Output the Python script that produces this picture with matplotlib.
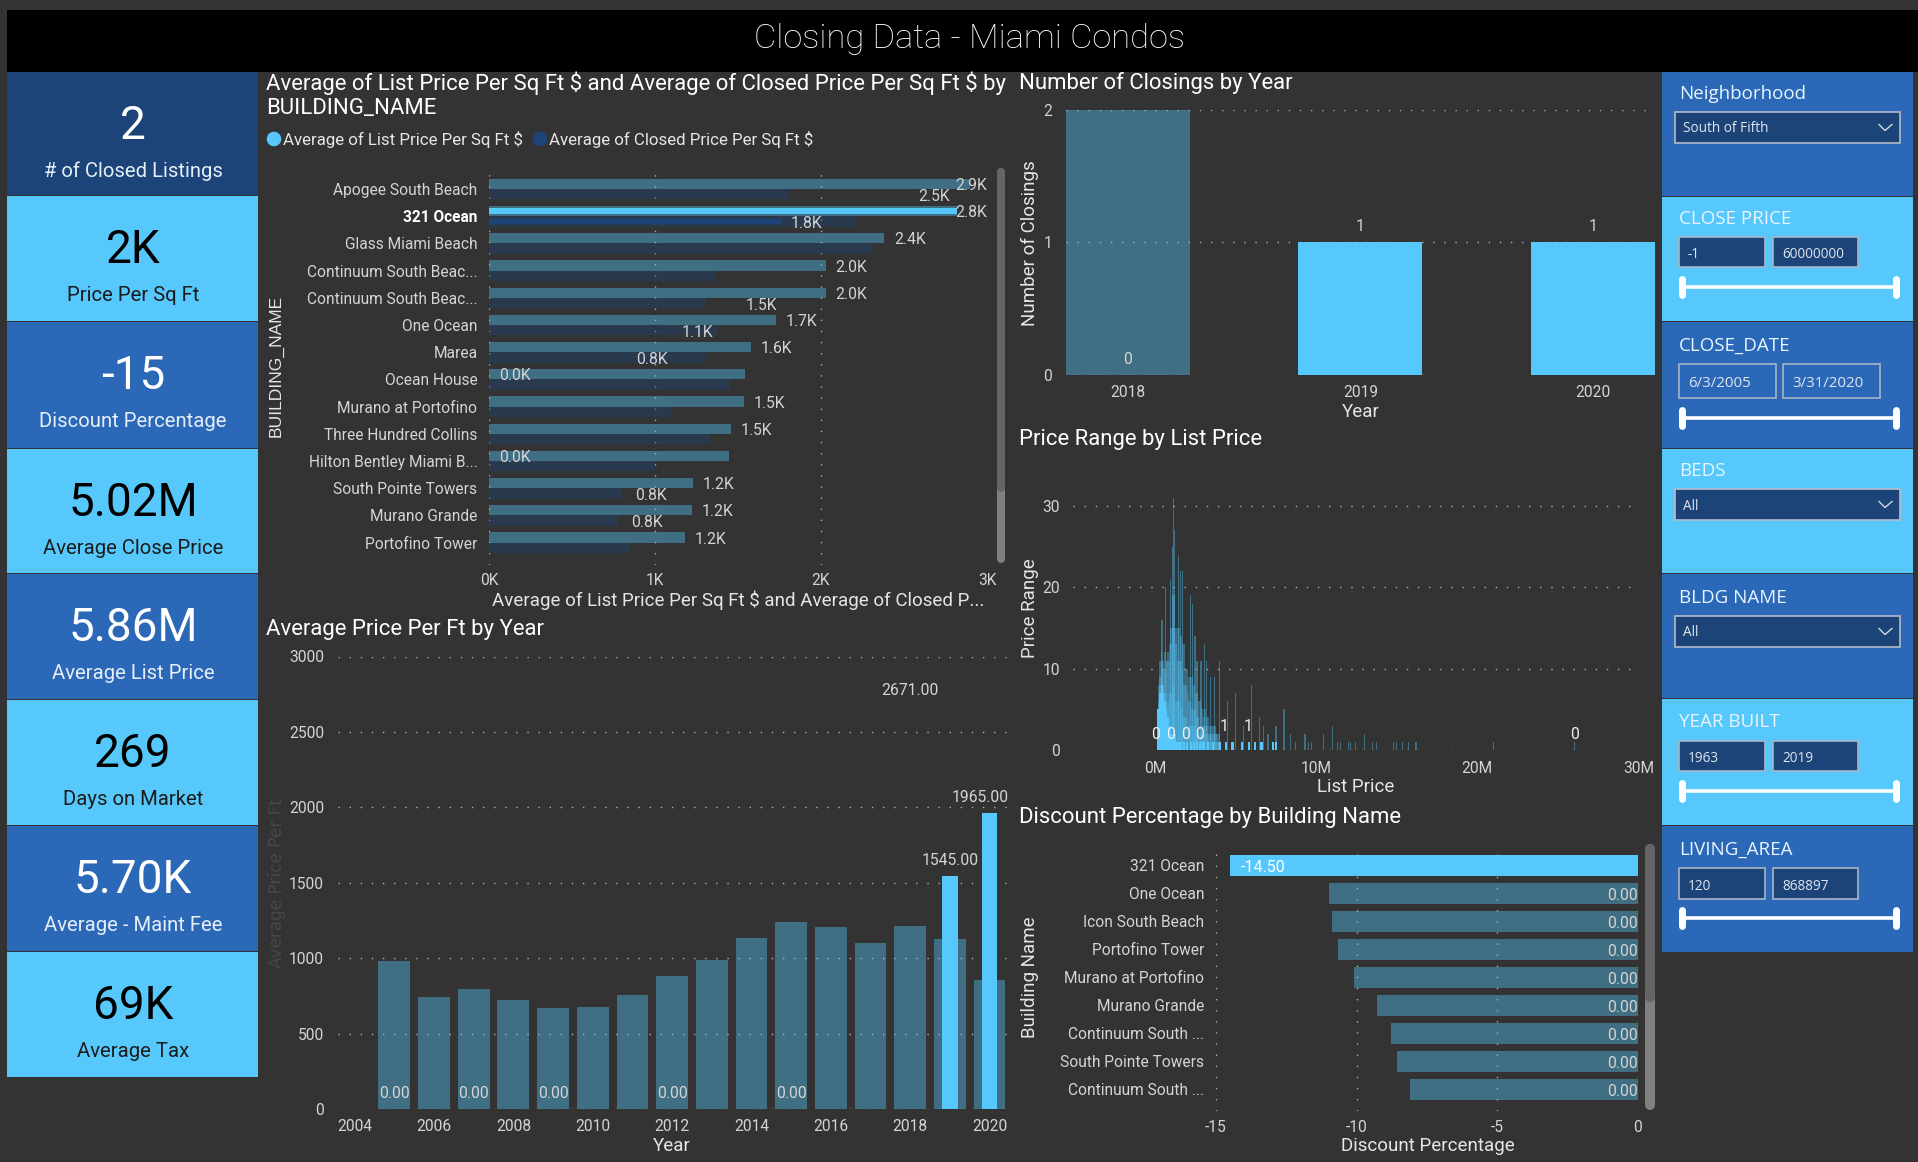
# power bi style dashboard - closing data for miami condos

import matplotlib
matplotlib.use('Agg')
import matplotlib.pyplot as plt
from matplotlib.patches import Rectangle

W, H = 1918, 1162

plt.rcParams['font.family'] = ['Roboto', 'DejaVu Sans']

BG = '#333333'
LIGHT = '#56c8fb'
MID = '#2b68b7'
DARK = '#1c4478'
TICK = '#d4d4d4'
GRID = '#b0b0b0'
DOTS = (0, (1, 7))

# kpi cards
card_values = ['2', '2K', '-15', '5.02M', '5.86M', '269', '5.70K', '69K']
card_labels = ['# of Closed Listings', 'Price Per Sq Ft', 'Discount Percentage', 'Average Close Price',
               'Average List Price', 'Days on Market', 'Average - Maint Fee', 'Average Tax']

# list vs closed price per sq ft
buildings = ['Apogee South Beach', '321 Ocean', 'Glass Miami Beach', 'Continuum South Beac...',
             'Continuum South Beac...', 'One Ocean', 'Marea', 'Ocean House', 'Murano at Portofino',
             'Three Hundred Collins', 'Hilton Bentley Miami B...', 'South Pointe Towers',
             'Murano Grande', 'Portofino Tower']
list_price = [2.90, 2.82, 2.38, 2.03, 2.03, 1.73, 1.58, 1.54, 1.535, 1.46, 1.445, 1.23, 1.22, 1.18]
closed_price = [1.81, 2.21, 2.30, 1.36, 1.31, 1.38, 1.30, 1.45, 1.10, 1.33, 1.00, 0.80, 0.78, 0.85]
list_labels = [2.9, 2.8, 2.4, 2.0, 2.0, 1.7, 1.6, 0.0, 1.5, 1.5, 0.0, 1.2, 1.2, 1.2]
closed_label_rows = [0, 1, 4, 5, 6, 11, 12]
closed_labels = [2.5, 1.8, 1.5, 1.1, 0.8, 0.8, 0.8]
closed_label_pos = [2.53, 1.76, 1.49, 1.10, 0.83, 0.82, 0.80]
highlight_row = 1
highlight_list = 2.82
highlight_closed = 1.76

# average price per ft by year
years = list(range(2005, 2021))
avg_price = [980, 742, 795, 721, 667, 676, 753, 882, 991, 1136, 1241, 1206, 1101, 1213, 1127, 856]
highlight_years = [2019, 2020]
highlight_price = [1545, 1965]
label_years = [2005, 2007, 2009, 2012, 2015, 2018, 2019, 2020]
label_values = [0, 0, 0, 0, 0, 2671, 1545, 1965]

# closings by year
closing_years = ['2018', '2019', '2020']
closings_all = [2, 1, 1]
closings_sel = [0, 1, 1]

# price range by list price, tall spikes
spike_price = [0.43, 0.64, 0.93, 1.10, 1.14, 1.20, 1.47, 1.55, 1.72, 2.17, 2.30, 2.48, 2.60, 2.84, 3.08,
               3.20, 3.42, 3.70, 3.98, 4.50, 5.00, 5.50, 6.00, 6.50, 6.73, 7.00, 7.50, 8.00, 8.40, 8.70,
               9.30, 9.50, 9.70, 10.45, 11.00, 11.30, 11.50, 12.00, 12.15, 12.45, 13.00, 13.50, 13.75,
               14.80, 15.00, 15.35, 15.75, 16.20, 21.00, 26.05]
spike_range = [16, 20, 21, 25, 31, 27, 24, 22, 22, 19, 18, 14, 11, 11, 13, 11, 9, 9, 11, 6, 7, 3, 8, 4, 3, 2,
               3, 5, 2, 1, 2, 1, 1, 2, 3, 1, 1, 1, 1, 1, 2, 1, 1, 1, 1, 1, 1, 1, 1, 1]
# the dense part, three overlapping layers
dense_price = [0.2, 0.3, 0.4, 0.5, 0.6, 0.7, 0.8, 0.9, 1.0, 1.1, 1.2, 1.3, 1.4, 1.5, 1.6, 1.7, 1.8, 1.9, 2.0,
               2.1, 2.2, 2.3, 2.4, 2.5, 2.6, 2.7, 2.8, 2.9, 3.0, 3.1, 3.2, 3.3, 3.4, 3.5, 3.6, 3.7, 3.8, 3.9, 4.0]
dense_a = [8, 11, 12, 11, 12, 11, 12, 13, 15, 19, 19, 15, 15, 15, 14, 13, 13, 10, 10, 9, 9, 9, 8, 7, 7, 6, 6,
           5, 4, 5, 4, 4, 3, 3, 3, 3, 2, 2, 2]
dense_b = [6, 9, 11, 10, 10, 11, 11, 11, 13, 15, 15, 13, 11, 11, 11, 10, 8, 8, 7, 6, 6, 5, 5, 5, 4, 4, 3, 3,
           3, 3, 3, 2, 2, 2, 2, 2, 2, 1, 1]
dense_c = [5, 8, 9, 8, 7, 7, 6, 7, 7, 8, 7, 6, 6, 6, 5, 5, 4, 4, 3, 3, 3, 3, 3, 3, 2, 2, 2, 2, 2, 2, 2, 1, 1, 1,
           1, 1, 1, 1, 1]
# selected listings (bright bars)
bright_price = [0.2, 0.3, 0.4, 0.5, 0.6, 0.7, 0.8, 0.9, 1.0, 1.1, 1.2, 1.3, 1.4, 1.5, 1.6, 1.8, 2.0, 2.2, 2.4, 2.6,
                2.8, 3.0, 3.3, 3.6, 4.0, 4.4, 4.8, 5.4, 5.8, 6.2, 6.6, 7.3, 7.5]
bright_range = [5, 7, 8, 7, 6, 5, 4, 3, 2, 2, 2, 1, 1, 1, 1, 1, 1, 1, 1, 1, 1, 1, 1, 1, 1, 1, 1, 1, 1, 1, 1, 1, 1]
range_label_price = [0.0, 0.97, 1.86, 2.73, 4.29, 5.74, 26.05]
range_label_height = [1.85, 1.85, 1.85, 1.85, 2.85, 2.85, 1.85]
range_label_text = ['0', '0', '0', '0', '1', '1', '0']

# discount percentage by building
discount_buildings = ['321 Ocean', 'One Ocean', 'Icon South Beach', 'Portofino Tower', 'Murano at Portofino',
                      'Murano Grande', 'Continuum South ...', 'South Pointe Towers', 'Continuum South ...']
discount = [-14.5, -11.0, -10.88, -10.67, -10.1, -9.27, -8.79, -8.58, -8.11]


def add_axes_px(x0, y0, x1, y1):
    ax = fig.add_axes([x0 / W, 1 - y1 / H, (x1 - x0) / W, (y1 - y0) / H])
    ax.set_facecolor('none')
    for s in ax.spines.values():
        s.set_visible(False)
    ax.tick_params(length=0, colors=TICK, labelsize=11.2)
    ax.set_axisbelow(True)
    return ax


def px_label(ax, xlabel=None, xpos=None, ylabel=None, ypos=None, **kw):
    # axis titles placed at figure pixel positions
    if xlabel:
        ax.set_xlabel(xlabel, color='#e6e6e6', fontsize=kw.get('xsize', 13.5), va='center')
        ax.xaxis.set_label_coords(xpos[0], xpos[1], transform=bg.transData)
    if ylabel:
        ax.set_ylabel(ylabel, color=kw.get('color', '#e6e6e6'), fontsize=kw.get('ysize', 13.5), va='center',
                      family=kw.get('family', ['Roboto', 'DejaVu Sans']))
        ax.yaxis.set_label_coords(ypos[0], ypos[1], transform=bg.transData)


def panel_title(text, x, y):
    bg.text(x, y + 1, text, color='white', fontsize=15.9, va='center', ha='left')


def slicer_title(text, y):
    bg.text(1679, y + 2, text, color='#e8f5ff', fontsize=13.5, va='center', family='Open Sans')


def dropdown(y0, y1, text):
    bg.add_patch(Rectangle((1675, y0), 225, y1 - y0, fc=DARK, ec='#b4bccb', lw=1.2))
    yc = (y0 + y1) / 2
    bg.text(1683, yc + 5, text, color='#dfe6ee', fontsize=9.8, va='baseline', family='Open Sans')
    bg.plot([1879, 1885, 1892], [yc - 3, yc + 3, yc - 3], color='#cfd8e4', lw=1)


def range_slicer(y0, y1, left, right, slider_y, fill=True, size=9.8, x1=1765, x2=1773, x3=1858):
    fc = DARK if fill else 'none'
    bg.add_patch(Rectangle((1679, y0), x1 - 1679, y1 - y0, fc=fc, ec='#a9b4c6', lw=1.2))
    bg.add_patch(Rectangle((x2, y0), x3 - x2, y1 - y0, fc=fc, ec='#a9b4c6', lw=1.2))
    yc = (y0 + y1) / 2 + 2.5
    bg.text(1688, yc, left, color='#dfe6ee', fontsize=size, va='center', family='Open Sans')
    bg.text(x2 + 9, yc, right, color='#dfe6ee', fontsize=size, va='center', family='Open Sans')
    bg.plot([1682, 1896], [slider_y, slider_y], color='white', lw=2.6, solid_capstyle='butt')
    for hx in (1682, 1896):
        bg.plot([hx, hx], [slider_y - 8, slider_y + 8], color='white', lw=5, solid_capstyle='round')


def scrollbar(x, w, y0, y1, y_split):
    lw = w * 0.72
    xc = x + w / 2
    bg.plot([xc, xc], [y0 + w / 2, y1 - w / 2], color='#808080', lw=lw, solid_capstyle='round')
    bg.plot([xc, xc], [y0 + w / 2, y_split - w / 2], color='#646464', lw=lw, solid_capstyle='round')


fig = plt.figure(figsize=(W / 100, H / 100), dpi=100, facecolor=BG)
bg = fig.add_axes([0, 0, 1, 1])
bg.set_xlim(0, W)
bg.set_ylim(H, 0)
bg.axis('off')

# banner
bg.add_patch(Rectangle((7, 10), W - 7, 62, fc='black', ec='none'))
bg.text(970, 39, 'Closing Data - Miami Condos', color='white', fontsize=24.8, ha='center', va='center',
        family='Roboto', weight='light')

# left cards
card_tops = [72, 196, 322, 449, 574, 700, 826, 952]
card_fill = [DARK, LIGHT, MID, LIGHT, MID, LIGHT, MID, LIGHT]
for i, (val, lab) in enumerate(zip(card_values, card_labels)):
    top = card_tops[i]
    bottom = card_tops[i + 1] if i < 7 else 1078
    bg.add_patch(Rectangle((7, top), 251, bottom - top - 1, fc=card_fill[i], ec='none'))
    col = 'black' if card_fill[i] == LIGHT else 'white'
    tcol = '#1b1b1b' if card_fill[i] == LIGHT else '#e6eef8'
    bg.text(133, top + 67, val, color=col, fontsize=33, ha='center', va='baseline')
    bg.text(133, top + 105, lab, color=tcol, fontsize=14.6, ha='center', va='baseline')

# right slicers
for y0, y1, c in [(72, 197, MID), (197, 322, LIGHT), (322, 449, MID), (449, 574, LIGHT),
                  (574, 699, MID), (699, 826, LIGHT), (826, 953, MID)]:
    bg.add_patch(Rectangle((1662, y0), 251, y1 - y0 - 1, fc=c, ec='none'))
slicer_title('Neighborhood', 92)
dropdown(112, 143, 'South of Fifth')
slicer_title('CLOSE PRICE', 217)
range_slicer(237, 267, '-1', '60000000', 287)
slicer_title('CLOSE_DATE', 344)
range_slicer(364, 398, '6/3/2005', '3/31/2020', 418, fill=False, size=10.8, x1=1776, x2=1783, x3=1880)
slicer_title('BEDS', 469)
dropdown(489, 520, 'All')
slicer_title('BLDG NAME', 596)
dropdown(616, 647, 'All')
slicer_title('YEAR BUILT', 720)
range_slicer(741, 771, '1963', '2019', 791)
slicer_title('LIVING_AREA', 848)
range_slicer(868, 899, '120', '868897', 918)

# list vs closed chart
panel_title(r'Average of List Price Per Sq Ft \$ and Average of Closed Price Per Sq Ft \$ by', 266, 82)
panel_title('BUILDING_NAME', 266, 107)
bg.scatter([274, 540], [139, 139], s=110, color=[LIGHT, DARK], linewidths=0)
bg.text(283, 139, 'Average of List Price Per Sq Ft $', color='#e6e6e6', fontsize=12.2, va='center')
bg.text(549, 139, 'Average of Closed Price Per Sq Ft $', color='#e6e6e6', fontsize=12.2, va='center')

ax = add_axes_px(489, 170, 987, 565)
rows = list(range(len(buildings)))
ax.barh([r - 0.19 for r in rows], list_price, height=0.38, color=LIGHT, alpha=0.4)
ax.barh([r + 0.19 for r in rows], closed_price, height=0.38, color=DARK, alpha=0.4)
ax.barh(highlight_row - 0.19, highlight_list, height=0.21, color=LIGHT)
ax.barh(highlight_row + 0.19, highlight_closed, height=0.21, color=DARK)
ax.set_xlim(0, 3)
ax.set_ylim(13.82, -0.70)
ax.set_xticks([0, 1, 2, 3])
ax.set_xticklabels(['0K', '1K', '2K', '3K'])
ax.set_yticks(rows)
ax.set_yticklabels(buildings)
ax.tick_params(axis='y', pad=8.3, labelsize=11.2)
ax.tick_params(axis='x', pad=6)
ax.get_yticklabels()[highlight_row].set_fontweight('bold')
ax.get_yticklabels()[highlight_row].set_color('white')
ax.grid(axis='x', color=GRID, ls=DOTS, lw=1)
for r, v, t in zip(rows, list_price, list_labels):
    txt = f'{t:.1f}K'
    if v > 2.7:
        ax.annotate(txt, (3, r - 0.13), ha='right', va='center', color=TICK, fontsize=11.3)
    else:
        pos = 0 if t == 0 else v
        ax.annotate(txt, (pos, r - 0.13), xytext=(7, 0), textcoords='offset points', va='center',
                    color=TICK, fontsize=11.3)
for r, p, t in zip(closed_label_rows, closed_label_pos, closed_labels):
    ax.annotate(f'{t:.1f}K', (p, r + 0.27), xytext=(7, 0), textcoords='offset points', va='center',
                color=TICK, fontsize=11.3)
px_label(ax, 'Average of List Price Per Sq Ft $ and Average of Closed P...', (738, 600),
         'BUILDING_NAME', (276, 366), family=['Liberation Sans', 'DejaVu Sans'], ysize=12.6)

scrollbar(997, 8, 168, 563, 492)

# price per ft by year
panel_title('Average Price Per Ft by Year', 266, 628)
ax = add_axes_px(337.6, 656.5, 1006.5, 1109)
ax.bar(years, avg_price, width=0.8, color=LIGHT, alpha=0.4)
ax.bar(highlight_years, highlight_price, width=0.4, color=LIGHT)
ax.set_xlim(2003.57, 2020.43)
ax.set_ylim(0, 3000)
ax.set_xticks(range(2004, 2021, 2))
ax.set_yticks(range(0, 3001, 500))
ax.tick_params(axis='y', pad=9.8)
ax.tick_params(axis='x', pad=7.5)
ax.grid(axis='y', color=GRID, ls=DOTS, lw=1)
for yr, v in zip(label_years, label_values):
    dx = -7 if yr == 2020 else 0
    ax.annotate(f'{v:.2f}', (yr, v), xytext=(dx, 11), textcoords='offset points', ha='center',
                va='center', color=TICK, fontsize=11.3)
px_label(ax, 'Year', (672, 1146), 'Average Price Per Ft', (277, 883), color='#484848', ysize=12.2,
         family=['DejaVu Sans'])

# closings by year
panel_title('Number of Closings by Year', 1019, 81.5)
ax = add_axes_px(1065.5, 110, 1655, 375)
xpos = list(range(len(closing_years)))
ax.bar(xpos, closings_all, width=0.534, color=LIGHT, alpha=0.4)
ax.bar(xpos, closings_sel, width=0.534, color=LIGHT)
ax.set_xlim(-0.267, 2.267)
ax.set_ylim(0, 2)
ax.set_xticks(xpos)
ax.set_xticklabels(closing_years)
ax.set_yticks([0, 1, 2])
ax.tick_params(axis='y', pad=9.7)
ax.tick_params(axis='x', pad=7.5)
ax.grid(axis='y', color=GRID, ls=DOTS, lw=1)
for x, v in zip(xpos, closings_sel):
    ax.annotate(str(v), (x, v), xytext=(0, 11.5), textcoords='offset points', ha='center', va='center',
                color=TICK, fontsize=11.3)
px_label(ax, 'Year', (1360.6, 412), 'Number of Closings', (1030, 243))

# price range histogram-like bars
panel_title('Price Range by List Price', 1019, 438)
ax = add_axes_px(1073, 506 - 81.3 * 0.2, 1640, 750)
for heights in (dense_a, dense_b, dense_c):
    ax.bar(dense_price, heights, width=0.1, color=LIGHT, alpha=0.36, linewidth=0)
ax.bar(spike_price, spike_range, width=0.075, color=LIGHT, alpha=0.4, linewidth=0)
ax.bar(bright_price, bright_range, width=0.13, color=LIGHT, linewidth=0)
ax.set_xlim(-5.1, 30.1)
ax.set_ylim(0, 32)
ax.set_xticks([0, 10, 20, 30])
ax.set_xticklabels(['0M', '10M', '20M', '30M'])
ax.set_yticks([0, 10, 20, 30])
ax.tick_params(axis='y', pad=9.4)
ax.tick_params(axis='x', pad=8)
ax.grid(axis='y', color=GRID, ls=DOTS, lw=1)
for p, h, t in zip(range_label_price, range_label_height, range_label_text):
    ax.text(p, h, t, ha='center', va='center', color='#f0f0f0', fontsize=11.3)
px_label(ax, 'List Price', (1356, 787), 'Price Range', (1030, 608))

# discount chart
panel_title('Discount Percentage by Building Name', 1019, 817)
ax = add_axes_px(1216, 850, 1638, 1110.7)
drows = list(range(len(discount)))
ax.barh(drows, discount, height=0.75, color=LIGHT, alpha=0.4)
ax.barh(drows[0], discount[0], height=0.75, color=LIGHT)
ax.set_xlim(-15, 0)
ax.set_ylim(8.76, -0.55)
ax.set_xticks([-15, -10, -5, 0])
ax.set_xticklabels(['-15', '-10', '-5', '0'])
ax.set_yticks(drows)
ax.set_yticklabels(discount_buildings)
ax.tick_params(axis='y', pad=8.6, labelsize=11.2)
ax.tick_params(axis='x', pad=7)
ax.grid(axis='x', color=GRID, ls=DOTS, lw=1)
ax.annotate(f'{discount[0]:.2f}', (discount[0], 0.07), xytext=(8, 0), textcoords='offset points', va='center',
            color='white', fontsize=11.6)
for r in drows[1:]:
    ax.annotate('0.00', (0, r + 0.07), ha='right', va='center', color=TICK, fontsize=11.3)
px_label(ax, 'Discount Percentage', (1427.5, 1146), 'Building Name', (1030, 977))
scrollbar(1645, 10, 844, 1110, 1002)

fig.savefig('out.png', dpi=100, facecolor=BG)
